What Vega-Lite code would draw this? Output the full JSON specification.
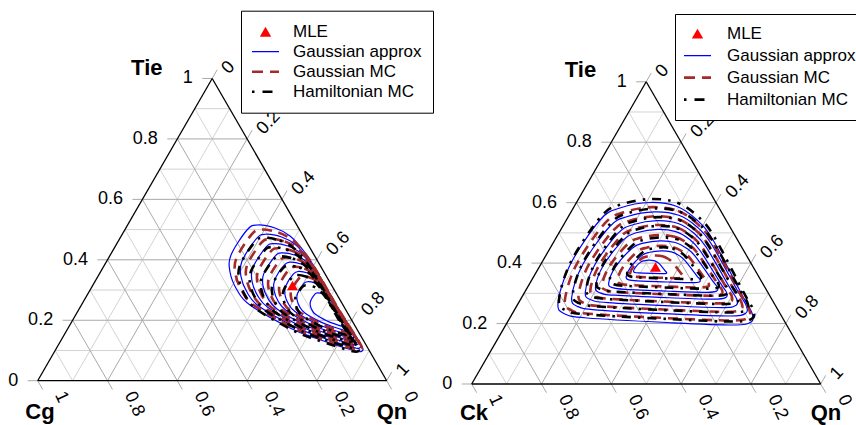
{
"$schema":"https://vega.github.io/schema/vega-lite/v6.json",
"padding":0,"spacing":0,"bounds":"flush",
"config":{"view":{"stroke":null},"font":"Liberation Sans","background":"white"},
"resolve":{"scale":{"color":"independent","x":"independent","y":"independent"},"legend":{"color":"independent"}},
"datasets":{
"grid":[
{"g":"minor","x":0.05,"y":0.0866,"x2":0.95,"y2":0.0866},
{"g":"major","x":0.1,"y":0.1732,"x2":0.9,"y2":0.1732},
{"g":"minor","x":0.15,"y":0.2598,"x2":0.85,"y2":0.2598},
{"g":"major","x":0.2,"y":0.3464,"x2":0.8,"y2":0.3464},
{"g":"minor","x":0.25,"y":0.433,"x2":0.75,"y2":0.433},
{"g":"major","x":0.3,"y":0.5196,"x2":0.7,"y2":0.5196},
{"g":"minor","x":0.35,"y":0.6062,"x2":0.65,"y2":0.6062},
{"g":"major","x":0.4,"y":0.6928,"x2":0.6,"y2":0.6928},
{"g":"minor","x":0.45,"y":0.7794,"x2":0.55,"y2":0.7794},
{"g":"minor","x":0.1,"y":0,"x2":0.55,"y2":0.7794},
{"g":"major","x":0.2,"y":0,"x2":0.6,"y2":0.6928},
{"g":"minor","x":0.3,"y":0,"x2":0.65,"y2":0.6062},
{"g":"major","x":0.4,"y":0,"x2":0.7,"y2":0.5196},
{"g":"minor","x":0.5,"y":0,"x2":0.75,"y2":0.433},
{"g":"major","x":0.6,"y":0,"x2":0.8,"y2":0.3464},
{"g":"minor","x":0.7,"y":0,"x2":0.85,"y2":0.2598},
{"g":"major","x":0.8,"y":0,"x2":0.9,"y2":0.1732},
{"g":"minor","x":0.9,"y":0,"x2":0.95,"y2":0.0866},
{"g":"minor","x":0.9,"y":0,"x2":0.45,"y2":0.7794},
{"g":"major","x":0.8,"y":0,"x2":0.4,"y2":0.6928},
{"g":"minor","x":0.7,"y":0,"x2":0.35,"y2":0.6062},
{"g":"major","x":0.6,"y":0,"x2":0.3,"y2":0.5196},
{"g":"minor","x":0.5,"y":0,"x2":0.25,"y2":0.433},
{"g":"major","x":0.4,"y":0,"x2":0.2,"y2":0.3464},
{"g":"minor","x":0.3,"y":0,"x2":0.15,"y2":0.2598},
{"g":"major","x":0.2,"y":0,"x2":0.1,"y2":0.1732},
{"g":"minor","x":0.1,"y":0,"x2":0.05,"y2":0.0866}
],
"ticks":[
{"x":0,"y":0,"x2":-0.0287,"y2":0},
{"x":0.1,"y":0.1732,"x2":0.0713,"y2":0.1732},
{"x":0.2,"y":0.3464,"x2":0.1713,"y2":0.3464},
{"x":0.3,"y":0.5196,"x2":0.2713,"y2":0.5196},
{"x":0.4,"y":0.6928,"x2":0.3713,"y2":0.6928},
{"x":0.5,"y":0.866,"x2":0.4713,"y2":0.866},
{"x":0.5,"y":0.866,"x2":0.5143,"y2":0.8909},
{"x":0.6,"y":0.6928,"x2":0.6143,"y2":0.7177},
{"x":0.7,"y":0.5196,"x2":0.7143,"y2":0.5445},
{"x":0.8,"y":0.3464,"x2":0.8143,"y2":0.3713},
{"x":0.9,"y":0.1732,"x2":0.9143,"y2":0.1981},
{"x":1,"y":0,"x2":1.0143,"y2":0.0249},
{"x":1,"y":0,"x2":1.0143,"y2":-0.0249},
{"x":0.8,"y":0,"x2":0.8143,"y2":-0.0249},
{"x":0.6,"y":0,"x2":0.6143,"y2":-0.0249},
{"x":0.4,"y":0,"x2":0.4143,"y2":-0.0249},
{"x":0.2,"y":0,"x2":0.2143,"y2":-0.0249},
{"x":0,"y":0,"x2":0.0143,"y2":-0.0249}
],
"border":[
{"x":0,"y":0,"x2":0.5,"y2":0.866},
{"x":0.5,"y":0.866,"x2":1,"y2":0},
{"x":0,"y":0,"x2":1,"y2":0}
],
"tlab":[
{"side":"L","t":"0","x":-0.0557,"y":0},
{"side":"L","t":"0.2","x":0.0443,"y":0.1732},
{"side":"L","t":"0.4","x":0.1443,"y":0.3464},
{"side":"L","t":"0.6","x":0.2443,"y":0.5196},
{"side":"L","t":"0.8","x":0.3443,"y":0.6928},
{"side":"L","t":"1","x":0.4443,"y":0.866},
{"side":"R","t":"0","x":0.5372,"y":0.8861},
{"side":"R","t":"0.2","x":0.6372,"y":0.7129},
{"side":"R","t":"0.4","x":0.7372,"y":0.5397},
{"side":"R","t":"0.6","x":0.8372,"y":0.3665},
{"side":"R","t":"0.8","x":0.9372,"y":0.1933},
{"side":"R","t":"1","x":1.0372,"y":0.0201},
{"side":"B","t":"1","x":0.0616,"y":-0.0344},
{"side":"B","t":"0.8","x":0.2616,"y":-0.0344},
{"side":"B","t":"0.6","x":0.4616,"y":-0.0344},
{"side":"B","t":"0.4","x":0.6616,"y":-0.0344},
{"side":"B","t":"0.2","x":0.8616,"y":-0.0344},
{"side":"B","t":"0","x":1.0616,"y":-0.0344}
],
"titlesL":[
{"t":"Tie","x":0.3126,"y":0.8974},
{"t":"Cg","x":0.0066,"y":-0.0883},
{"t":"Qn","x":1.0152,"y":-0.0883}
],
"titlesR":[
{"t":"Tie","x":0.3117,"y":0.8983},
{"t":"Ck","x":0.0066,"y":-0.083},
{"t":"Qn","x":1.0152,"y":-0.083}
],
"mleL":[{"s":"M","x":0.7301,"y":0.2728}],
"mleR":[{"s":"M","x":0.5266,"y":0.3352}],
"contL":[
{"s":"G","c":1,"i":0,"x":0.6284,"y":0.4462},{"s":"G","c":1,"i":1,"x":0.68,"y":0.4376},{"s":"G","c":1,"i":2,"x":0.7229,"y":0.4147},{"s":"G","c":1,"i":3,"x":0.7602,"y":0.3745},{"s":"G","c":1,"i":4,"x":0.7946,"y":0.323},{"s":"G","c":1,"i":5,"x":0.8605,"y":0.2084},{"s":"G","c":1,"i":6,"x":0.9235,"y":0.1081},{"s":"G","c":1,"i":7,"x":0.9292,"y":0.0851},{"s":"G","c":1,"i":8,"x":0.9006,"y":0.088},{"s":"G","c":1,"i":9,"x":0.7946,"y":0.1224},{"s":"G","c":1,"i":10,"x":0.7229,"y":0.151},{"s":"G","c":1,"i":11,"x":0.6083,"y":0.2169},{"s":"G","c":1,"i":12,"x":0.5711,"y":0.2599},{"s":"G","c":1,"i":13,"x":0.551,"y":0.3115},{"s":"G","c":1,"i":14,"x":0.5539,"y":0.3602},{"s":"G","c":1,"i":15,"x":0.5997,"y":0.4318},
{"s":"G","c":2,"i":0,"x":0.6522,"y":0.4196},{"s":"G","c":2,"i":1,"x":0.6986,"y":0.4118},{"s":"G","c":2,"i":2,"x":0.7372,"y":0.3912},{"s":"G","c":2,"i":3,"x":0.7708,"y":0.355},{"s":"G","c":2,"i":4,"x":0.8018,"y":0.3087},{"s":"G","c":2,"i":5,"x":0.8611,"y":0.2055},{"s":"G","c":2,"i":6,"x":0.9178,"y":0.1153},{"s":"G","c":2,"i":7,"x":0.9229,"y":0.0946},{"s":"G","c":2,"i":8,"x":0.8972,"y":0.0972},{"s":"G","c":2,"i":9,"x":0.8018,"y":0.1281},{"s":"G","c":2,"i":10,"x":0.7372,"y":0.1539},{"s":"G","c":2,"i":11,"x":0.6341,"y":0.2132},{"s":"G","c":2,"i":12,"x":0.6006,"y":0.2519},{"s":"G","c":2,"i":13,"x":0.5825,"y":0.2983},{"s":"G","c":2,"i":14,"x":0.5851,"y":0.3422},{"s":"G","c":2,"i":15,"x":0.6263,"y":0.4066},
{"s":"G","c":3,"i":0,"x":0.676,"y":0.3929},{"s":"G","c":3,"i":1,"x":0.7172,"y":0.386},{"s":"G","c":3,"i":2,"x":0.7516,"y":0.3677},{"s":"G","c":3,"i":3,"x":0.7814,"y":0.3355},{"s":"G","c":3,"i":4,"x":0.8089,"y":0.2943},{"s":"G","c":3,"i":5,"x":0.8616,"y":0.2027},{"s":"G","c":3,"i":6,"x":0.912,"y":0.1224},{"s":"G","c":3,"i":7,"x":0.9166,"y":0.104},{"s":"G","c":3,"i":8,"x":0.8937,"y":0.1063},{"s":"G","c":3,"i":9,"x":0.8089,"y":0.1339},{"s":"G","c":3,"i":10,"x":0.7516,"y":0.1567},{"s":"G","c":3,"i":11,"x":0.6599,"y":0.2095},{"s":"G","c":3,"i":12,"x":0.6301,"y":0.2439},{"s":"G","c":3,"i":13,"x":0.614,"y":0.2851},{"s":"G","c":3,"i":14,"x":0.6164,"y":0.3241},{"s":"G","c":3,"i":15,"x":0.653,"y":0.3814},
{"s":"G","c":4,"i":0,"x":0.6997,"y":0.3663},{"s":"G","c":4,"i":1,"x":0.7359,"y":0.3602},{"s":"G","c":4,"i":2,"x":0.7659,"y":0.3442},{"s":"G","c":4,"i":3,"x":0.792,"y":0.3161},{"s":"G","c":4,"i":4,"x":0.8161,"y":0.28},{"s":"G","c":4,"i":5,"x":0.8622,"y":0.1998},{"s":"G","c":4,"i":6,"x":0.9063,"y":0.1296},{"s":"G","c":4,"i":7,"x":0.9103,"y":0.1135},{"s":"G","c":4,"i":8,"x":0.8903,"y":0.1155},{"s":"G","c":4,"i":9,"x":0.8161,"y":0.1396},{"s":"G","c":4,"i":10,"x":0.7659,"y":0.1596},{"s":"G","c":4,"i":11,"x":0.6857,"y":0.2057},{"s":"G","c":4,"i":12,"x":0.6596,"y":0.2358},{"s":"G","c":4,"i":13,"x":0.6456,"y":0.272},{"s":"G","c":4,"i":14,"x":0.6476,"y":0.3061},{"s":"G","c":4,"i":15,"x":0.6796,"y":0.3562},
{"s":"G","c":5,"i":0,"x":0.7235,"y":0.3396},{"s":"G","c":5,"i":1,"x":0.7545,"y":0.3344},{"s":"G","c":5,"i":2,"x":0.7802,"y":0.3207},{"s":"G","c":5,"i":3,"x":0.8026,"y":0.2966},{"s":"G","c":5,"i":4,"x":0.8232,"y":0.2657},{"s":"G","c":5,"i":5,"x":0.8628,"y":0.1969},{"s":"G","c":5,"i":6,"x":0.9006,"y":0.1367},{"s":"G","c":5,"i":7,"x":0.904,"y":0.1229},{"s":"G","c":5,"i":8,"x":0.8868,"y":0.1247},{"s":"G","c":5,"i":9,"x":0.8232,"y":0.1453},{"s":"G","c":5,"i":10,"x":0.7802,"y":0.1625},{"s":"G","c":5,"i":11,"x":0.7115,"y":0.202},{"s":"G","c":5,"i":12,"x":0.6891,"y":0.2278},{"s":"G","c":5,"i":13,"x":0.6771,"y":0.2588},{"s":"G","c":5,"i":14,"x":0.6788,"y":0.288},{"s":"G","c":5,"i":15,"x":0.7063,"y":0.331},
{"s":"G","c":6,"i":0,"x":0.7473,"y":0.313},{"s":"G","c":6,"i":1,"x":0.7731,"y":0.3087},{"s":"G","c":6,"i":2,"x":0.7945,"y":0.2972},{"s":"G","c":6,"i":3,"x":0.8132,"y":0.2771},{"s":"G","c":6,"i":4,"x":0.8304,"y":0.2514},{"s":"G","c":6,"i":5,"x":0.8633,"y":0.1941},{"s":"G","c":6,"i":6,"x":0.8949,"y":0.1439},{"s":"G","c":6,"i":7,"x":0.8977,"y":0.1324},{"s":"G","c":6,"i":8,"x":0.8834,"y":0.1338},{"s":"G","c":6,"i":9,"x":0.8304,"y":0.151},{"s":"G","c":6,"i":10,"x":0.7945,"y":0.1653},{"s":"G","c":6,"i":11,"x":0.7372,"y":0.1983},{"s":"G","c":6,"i":12,"x":0.7186,"y":0.2198},{"s":"G","c":6,"i":13,"x":0.7086,"y":0.2456},{"s":"G","c":6,"i":14,"x":0.71,"y":0.27},{"s":"G","c":6,"i":15,"x":0.7329,"y":0.3058},
{"s":"G","c":7,"i":0,"x":0.7735,"y":0.2836},{"s":"G","c":7,"i":1,"x":0.7936,"y":0.2803},{"s":"G","c":7,"i":2,"x":0.8103,"y":0.2714},{"s":"G","c":7,"i":3,"x":0.8249,"y":0.2557},{"s":"G","c":7,"i":4,"x":0.8383,"y":0.2356},{"s":"G","c":7,"i":5,"x":0.864,"y":0.1909},{"s":"G","c":7,"i":6,"x":0.8885,"y":0.1518},{"s":"G","c":7,"i":7,"x":0.8908,"y":0.1428},{"s":"G","c":7,"i":8,"x":0.8796,"y":0.1439},{"s":"G","c":7,"i":9,"x":0.8383,"y":0.1574},{"s":"G","c":7,"i":10,"x":0.8103,"y":0.1685},{"s":"G","c":7,"i":11,"x":0.7656,"y":0.1942},{"s":"G","c":7,"i":12,"x":0.7511,"y":0.211},{"s":"G","c":7,"i":13,"x":0.7433,"y":0.2311},{"s":"G","c":7,"i":14,"x":0.7444,"y":0.2501},{"s":"G","c":7,"i":15,"x":0.7623,"y":0.278},
{"s":"G","c":8,"i":0,"x":0.802,"y":0.2517},{"s":"G","c":8,"i":1,"x":0.8159,"y":0.2493},{"s":"G","c":8,"i":2,"x":0.8275,"y":0.2432},{"s":"G","c":8,"i":3,"x":0.8376,"y":0.2323},{"s":"G","c":8,"i":4,"x":0.8469,"y":0.2184},{"s":"G","c":8,"i":5,"x":0.8647,"y":0.1874},{"s":"G","c":8,"i":6,"x":0.8817,"y":0.1604},{"s":"G","c":8,"i":7,"x":0.8832,"y":0.1542},{"s":"G","c":8,"i":8,"x":0.8755,"y":0.1549},{"s":"G","c":8,"i":9,"x":0.8469,"y":0.1642},{"s":"G","c":8,"i":10,"x":0.8275,"y":0.172},{"s":"G","c":8,"i":11,"x":0.7966,"y":0.1897},{"s":"G","c":8,"i":12,"x":0.7865,"y":0.2014},{"s":"G","c":8,"i":13,"x":0.7811,"y":0.2153},{"s":"G","c":8,"i":14,"x":0.7819,"y":0.2284},{"s":"G","c":8,"i":15,"x":0.7942,"y":0.2478},
{"s":"C","c":1,"i":0,"x":0.6403,"y":0.4329},{"s":"C","c":1,"i":1,"x":0.6893,"y":0.4247},{"s":"C","c":1,"i":2,"x":0.7301,"y":0.403},{"s":"C","c":1,"i":3,"x":0.7655,"y":0.3648},{"s":"C","c":1,"i":4,"x":0.7982,"y":0.3159},{"s":"C","c":1,"i":5,"x":0.8608,"y":0.207},{"s":"C","c":1,"i":6,"x":0.9207,"y":0.1117},{"s":"C","c":1,"i":7,"x":0.9261,"y":0.0899},{"s":"C","c":1,"i":8,"x":0.8989,"y":0.0926},{"s":"C","c":1,"i":9,"x":0.7982,"y":0.1253},{"s":"C","c":1,"i":10,"x":0.7301,"y":0.1525},{"s":"C","c":1,"i":11,"x":0.6212,"y":0.2151},{"s":"C","c":1,"i":12,"x":0.5859,"y":0.2559},{"s":"C","c":1,"i":13,"x":0.5668,"y":0.3049},{"s":"C","c":1,"i":14,"x":0.5695,"y":0.3512},{"s":"C","c":1,"i":15,"x":0.613,"y":0.4192},
{"s":"C","c":2,"i":0,"x":0.6641,"y":0.4063},{"s":"C","c":2,"i":1,"x":0.7079,"y":0.3989},{"s":"C","c":2,"i":2,"x":0.7444,"y":0.3795},{"s":"C","c":2,"i":3,"x":0.7761,"y":0.3453},{"s":"C","c":2,"i":4,"x":0.8054,"y":0.3015},{"s":"C","c":2,"i":5,"x":0.8614,"y":0.2041},{"s":"C","c":2,"i":6,"x":0.9149,"y":0.1189},{"s":"C","c":2,"i":7,"x":0.9198,"y":0.0993},{"s":"C","c":2,"i":8,"x":0.8955,"y":0.1018},{"s":"C","c":2,"i":9,"x":0.8054,"y":0.131},{"s":"C","c":2,"i":10,"x":0.7444,"y":0.1553},{"s":"C","c":2,"i":11,"x":0.647,"y":0.2114},{"s":"C","c":2,"i":12,"x":0.6154,"y":0.2479},{"s":"C","c":2,"i":13,"x":0.5983,"y":0.2917},{"s":"C","c":2,"i":14,"x":0.6008,"y":0.3332},{"s":"C","c":2,"i":15,"x":0.6397,"y":0.394},
{"s":"C","c":3,"i":0,"x":0.6879,"y":0.3796},{"s":"C","c":3,"i":1,"x":0.7266,"y":0.3731},{"s":"C","c":3,"i":2,"x":0.7588,"y":0.356},{"s":"C","c":3,"i":3,"x":0.7867,"y":0.3258},{"s":"C","c":3,"i":4,"x":0.8125,"y":0.2872},{"s":"C","c":3,"i":5,"x":0.8619,"y":0.2013},{"s":"C","c":3,"i":6,"x":0.9092,"y":0.126},{"s":"C","c":3,"i":7,"x":0.9135,"y":0.1088},{"s":"C","c":3,"i":8,"x":0.892,"y":0.1109},{"s":"C","c":3,"i":9,"x":0.8125,"y":0.1368},{"s":"C","c":3,"i":10,"x":0.7588,"y":0.1582},{"s":"C","c":3,"i":11,"x":0.6728,"y":0.2076},{"s":"C","c":3,"i":12,"x":0.6449,"y":0.2399},{"s":"C","c":3,"i":13,"x":0.6298,"y":0.2786},{"s":"C","c":3,"i":14,"x":0.632,"y":0.3151},{"s":"C","c":3,"i":15,"x":0.6663,"y":0.3688},
{"s":"C","c":4,"i":0,"x":0.7116,"y":0.353},{"s":"C","c":4,"i":1,"x":0.7452,"y":0.3473},{"s":"C","c":4,"i":2,"x":0.7731,"y":0.3325},{"s":"C","c":4,"i":3,"x":0.7973,"y":0.3064},{"s":"C","c":4,"i":4,"x":0.8197,"y":0.2729},{"s":"C","c":4,"i":5,"x":0.8625,"y":0.1984},{"s":"C","c":4,"i":6,"x":0.9035,"y":0.1332},{"s":"C","c":4,"i":7,"x":0.9072,"y":0.1182},{"s":"C","c":4,"i":8,"x":0.8886,"y":0.1201},{"s":"C","c":4,"i":9,"x":0.8197,"y":0.1425},{"s":"C","c":4,"i":10,"x":0.7731,"y":0.1611},{"s":"C","c":4,"i":11,"x":0.6986,"y":0.2039},{"s":"C","c":4,"i":12,"x":0.6744,"y":0.2318},{"s":"C","c":4,"i":13,"x":0.6614,"y":0.2654},{"s":"C","c":4,"i":14,"x":0.6632,"y":0.2971},{"s":"C","c":4,"i":15,"x":0.693,"y":0.3436},
{"s":"C","c":5,"i":0,"x":0.7354,"y":0.3263},{"s":"C","c":5,"i":1,"x":0.7638,"y":0.3216},{"s":"C","c":5,"i":2,"x":0.7874,"y":0.309},{"s":"C","c":5,"i":3,"x":0.8079,"y":0.2869},{"s":"C","c":5,"i":4,"x":0.8268,"y":0.2586},{"s":"C","c":5,"i":5,"x":0.8631,"y":0.1955},{"s":"C","c":5,"i":6,"x":0.8978,"y":0.1403},{"s":"C","c":5,"i":7,"x":0.9009,"y":0.1277},{"s":"C","c":5,"i":8,"x":0.8851,"y":0.1293},{"s":"C","c":5,"i":9,"x":0.8268,"y":0.1482},{"s":"C","c":5,"i":10,"x":0.7874,"y":0.1639},{"s":"C","c":5,"i":11,"x":0.7244,"y":0.2002},{"s":"C","c":5,"i":12,"x":0.7039,"y":0.2238},{"s":"C","c":5,"i":13,"x":0.6929,"y":0.2522},{"s":"C","c":5,"i":14,"x":0.6944,"y":0.279},{"s":"C","c":5,"i":15,"x":0.7196,"y":0.3184},
{"s":"C","c":6,"i":0,"x":0.7604,"y":0.2983},{"s":"C","c":6,"i":1,"x":0.7834,"y":0.2945},{"s":"C","c":6,"i":2,"x":0.8024,"y":0.2843},{"s":"C","c":6,"i":3,"x":0.8191,"y":0.2664},{"s":"C","c":6,"i":4,"x":0.8344,"y":0.2435},{"s":"C","c":6,"i":5,"x":0.8637,"y":0.1925},{"s":"C","c":6,"i":6,"x":0.8917,"y":0.1479},{"s":"C","c":6,"i":7,"x":0.8943,"y":0.1376},{"s":"C","c":6,"i":8,"x":0.8815,"y":0.1389},{"s":"C","c":6,"i":9,"x":0.8344,"y":0.1542},{"s":"C","c":6,"i":10,"x":0.8024,"y":0.1669},{"s":"C","c":6,"i":11,"x":0.7514,"y":0.1963},{"s":"C","c":6,"i":12,"x":0.7349,"y":0.2154},{"s":"C","c":6,"i":13,"x":0.726,"y":0.2384},{"s":"C","c":6,"i":14,"x":0.7272,"y":0.2601},{"s":"C","c":6,"i":15,"x":0.7476,"y":0.2919},
{"s":"H","c":1,"i":0,"x":0.6472,"y":0.4096},{"s":"H","c":1,"i":1,"x":0.6936,"y":0.4018},{"s":"H","c":1,"i":2,"x":0.7322,"y":0.3812},{"s":"H","c":1,"i":3,"x":0.7658,"y":0.345},{"s":"H","c":1,"i":4,"x":0.7968,"y":0.2987},{"s":"H","c":1,"i":5,"x":0.8561,"y":0.1955},{"s":"H","c":1,"i":6,"x":0.9128,"y":0.1053},{"s":"H","c":1,"i":7,"x":0.9179,"y":0.0846},{"s":"H","c":1,"i":8,"x":0.8922,"y":0.0872},{"s":"H","c":1,"i":9,"x":0.7968,"y":0.1181},{"s":"H","c":1,"i":10,"x":0.7322,"y":0.1439},{"s":"H","c":1,"i":11,"x":0.6291,"y":0.2032},{"s":"H","c":1,"i":12,"x":0.5956,"y":0.2419},{"s":"H","c":1,"i":13,"x":0.5775,"y":0.2883},{"s":"H","c":1,"i":14,"x":0.5801,"y":0.3322},{"s":"H","c":1,"i":15,"x":0.6213,"y":0.3966},
{"s":"H","c":2,"i":0,"x":0.671,"y":0.3829},{"s":"H","c":2,"i":1,"x":0.7122,"y":0.376},{"s":"H","c":2,"i":2,"x":0.7466,"y":0.3577},{"s":"H","c":2,"i":3,"x":0.7764,"y":0.3255},{"s":"H","c":2,"i":4,"x":0.8039,"y":0.2843},{"s":"H","c":2,"i":5,"x":0.8566,"y":0.1927},{"s":"H","c":2,"i":6,"x":0.907,"y":0.1124},{"s":"H","c":2,"i":7,"x":0.9116,"y":0.094},{"s":"H","c":2,"i":8,"x":0.8887,"y":0.0963},{"s":"H","c":2,"i":9,"x":0.8039,"y":0.1239},{"s":"H","c":2,"i":10,"x":0.7466,"y":0.1467},{"s":"H","c":2,"i":11,"x":0.6549,"y":0.1995},{"s":"H","c":2,"i":12,"x":0.6251,"y":0.2339},{"s":"H","c":2,"i":13,"x":0.609,"y":0.2751},{"s":"H","c":2,"i":14,"x":0.6114,"y":0.3141},{"s":"H","c":2,"i":15,"x":0.648,"y":0.3714},
{"s":"H","c":3,"i":0,"x":0.6947,"y":0.3563},{"s":"H","c":3,"i":1,"x":0.7309,"y":0.3502},{"s":"H","c":3,"i":2,"x":0.7609,"y":0.3342},{"s":"H","c":3,"i":3,"x":0.787,"y":0.3061},{"s":"H","c":3,"i":4,"x":0.8111,"y":0.27},{"s":"H","c":3,"i":5,"x":0.8572,"y":0.1898},{"s":"H","c":3,"i":6,"x":0.9013,"y":0.1196},{"s":"H","c":3,"i":7,"x":0.9053,"y":0.1035},{"s":"H","c":3,"i":8,"x":0.8853,"y":0.1055},{"s":"H","c":3,"i":9,"x":0.8111,"y":0.1296},{"s":"H","c":3,"i":10,"x":0.7609,"y":0.1496},{"s":"H","c":3,"i":11,"x":0.6807,"y":0.1957},{"s":"H","c":3,"i":12,"x":0.6546,"y":0.2258},{"s":"H","c":3,"i":13,"x":0.6406,"y":0.262},{"s":"H","c":3,"i":14,"x":0.6426,"y":0.2961},{"s":"H","c":3,"i":15,"x":0.6746,"y":0.3462},
{"s":"H","c":4,"i":0,"x":0.7185,"y":0.3296},{"s":"H","c":4,"i":1,"x":0.7495,"y":0.3244},{"s":"H","c":4,"i":2,"x":0.7752,"y":0.3107},{"s":"H","c":4,"i":3,"x":0.7976,"y":0.2866},{"s":"H","c":4,"i":4,"x":0.8182,"y":0.2557},{"s":"H","c":4,"i":5,"x":0.8578,"y":0.1869},{"s":"H","c":4,"i":6,"x":0.8956,"y":0.1267},{"s":"H","c":4,"i":7,"x":0.899,"y":0.1129},{"s":"H","c":4,"i":8,"x":0.8818,"y":0.1147},{"s":"H","c":4,"i":9,"x":0.8182,"y":0.1353},{"s":"H","c":4,"i":10,"x":0.7752,"y":0.1525},{"s":"H","c":4,"i":11,"x":0.7065,"y":0.192},{"s":"H","c":4,"i":12,"x":0.6841,"y":0.2178},{"s":"H","c":4,"i":13,"x":0.6721,"y":0.2488},{"s":"H","c":4,"i":14,"x":0.6738,"y":0.278},{"s":"H","c":4,"i":15,"x":0.7013,"y":0.321},
{"s":"H","c":5,"i":0,"x":0.7423,"y":0.303},{"s":"H","c":5,"i":1,"x":0.7681,"y":0.2987},{"s":"H","c":5,"i":2,"x":0.7895,"y":0.2872},{"s":"H","c":5,"i":3,"x":0.8082,"y":0.2671},{"s":"H","c":5,"i":4,"x":0.8254,"y":0.2414},{"s":"H","c":5,"i":5,"x":0.8583,"y":0.1841},{"s":"H","c":5,"i":6,"x":0.8899,"y":0.1339},{"s":"H","c":5,"i":7,"x":0.8927,"y":0.1224},{"s":"H","c":5,"i":8,"x":0.8784,"y":0.1238},{"s":"H","c":5,"i":9,"x":0.8254,"y":0.141},{"s":"H","c":5,"i":10,"x":0.7895,"y":0.1553},{"s":"H","c":5,"i":11,"x":0.7322,"y":0.1883},{"s":"H","c":5,"i":12,"x":0.7136,"y":0.2098},{"s":"H","c":5,"i":13,"x":0.7036,"y":0.2356},{"s":"H","c":5,"i":14,"x":0.705,"y":0.26},{"s":"H","c":5,"i":15,"x":0.7279,"y":0.2958},
{"s":"H","c":6,"i":0,"x":0.7685,"y":0.2736},{"s":"H","c":6,"i":1,"x":0.7886,"y":0.2703},{"s":"H","c":6,"i":2,"x":0.8053,"y":0.2614},{"s":"H","c":6,"i":3,"x":0.8199,"y":0.2457},{"s":"H","c":6,"i":4,"x":0.8333,"y":0.2256},{"s":"H","c":6,"i":5,"x":0.859,"y":0.1809},{"s":"H","c":6,"i":6,"x":0.8835,"y":0.1418},{"s":"H","c":6,"i":7,"x":0.8858,"y":0.1328},{"s":"H","c":6,"i":8,"x":0.8746,"y":0.1339},{"s":"H","c":6,"i":9,"x":0.8333,"y":0.1474},{"s":"H","c":6,"i":10,"x":0.8053,"y":0.1585},{"s":"H","c":6,"i":11,"x":0.7606,"y":0.1842},{"s":"H","c":6,"i":12,"x":0.7461,"y":0.201},{"s":"H","c":6,"i":13,"x":0.7383,"y":0.2211},{"s":"H","c":6,"i":14,"x":0.7394,"y":0.2401},{"s":"H","c":6,"i":15,"x":0.7573,"y":0.268}
],
"contR":[
{"s":"G","c":1,"i":0,"x":0.5109,"y":0.5201},{"s":"G","c":1,"i":1,"x":0.5882,"y":0.5086},{"s":"G","c":1,"i":2,"x":0.6455,"y":0.4699},{"s":"G","c":1,"i":3,"x":0.6914,"y":0.4126},{"s":"G","c":1,"i":4,"x":0.7773,"y":0.2502},{"s":"G","c":1,"i":5,"x":0.8031,"y":0.2035},{"s":"G","c":1,"i":6,"x":0.8003,"y":0.1777},{"s":"G","c":1,"i":7,"x":0.7487,"y":0.1691},{"s":"G","c":1,"i":8,"x":0.5596,"y":0.1762},{"s":"G","c":1,"i":9,"x":0.3304,"y":0.1891},{"s":"G","c":1,"i":10,"x":0.2673,"y":0.2006},{"s":"G","c":1,"i":11,"x":0.2473,"y":0.2321},{"s":"G","c":1,"i":12,"x":0.2816,"y":0.341},{"s":"G","c":1,"i":13,"x":0.3676,"y":0.4699},{"s":"G","c":1,"i":14,"x":0.4249,"y":0.5043},
{"s":"G","c":2,"i":0,"x":0.5238,"y":0.4932},{"s":"G","c":2,"i":1,"x":0.5934,"y":0.4835},{"s":"G","c":2,"i":2,"x":0.645,"y":0.4506},{"s":"G","c":2,"i":3,"x":0.6863,"y":0.4019},{"s":"G","c":2,"i":4,"x":0.7636,"y":0.2638},{"s":"G","c":2,"i":5,"x":0.7868,"y":0.2241},{"s":"G","c":2,"i":6,"x":0.7843,"y":0.2022},{"s":"G","c":2,"i":7,"x":0.7379,"y":0.1949},{"s":"G","c":2,"i":8,"x":0.5677,"y":0.2009},{"s":"G","c":2,"i":9,"x":0.3614,"y":0.2119},{"s":"G","c":2,"i":10,"x":0.3046,"y":0.2217},{"s":"G","c":2,"i":11,"x":0.2866,"y":0.2484},{"s":"G","c":2,"i":12,"x":0.3175,"y":0.341},{"s":"G","c":2,"i":13,"x":0.3949,"y":0.4506},{"s":"G","c":2,"i":14,"x":0.4464,"y":0.4798},
{"s":"G","c":3,"i":0,"x":0.5312,"y":0.4682},{"s":"G","c":3,"i":1,"x":0.5915,"y":0.46},{"s":"G","c":3,"i":2,"x":0.6362,"y":0.4325},{"s":"G","c":3,"i":3,"x":0.672,"y":0.3918},{"s":"G","c":3,"i":4,"x":0.739,"y":0.2765},{"s":"G","c":3,"i":5,"x":0.7592,"y":0.2434},{"s":"G","c":3,"i":6,"x":0.757,"y":0.2251},{"s":"G","c":3,"i":7,"x":0.7167,"y":0.219},{"s":"G","c":3,"i":8,"x":0.5692,"y":0.224},{"s":"G","c":3,"i":9,"x":0.3905,"y":0.2332},{"s":"G","c":3,"i":10,"x":0.3412,"y":0.2413},{"s":"G","c":3,"i":11,"x":0.3256,"y":0.2637},{"s":"G","c":3,"i":12,"x":0.3524,"y":0.341},{"s":"G","c":3,"i":13,"x":0.4195,"y":0.4325},{"s":"G","c":3,"i":14,"x":0.4642,"y":0.4569},
{"s":"G","c":4,"i":0,"x":0.5327,"y":0.4431},{"s":"G","c":4,"i":1,"x":0.5849,"y":0.4365},{"s":"G","c":4,"i":2,"x":0.6236,"y":0.4145},{"s":"G","c":4,"i":3,"x":0.6546,"y":0.3818},{"s":"G","c":4,"i":4,"x":0.7126,"y":0.2892},{"s":"G","c":4,"i":5,"x":0.73,"y":0.2626},{"s":"G","c":4,"i":6,"x":0.7281,"y":0.2479},{"s":"G","c":4,"i":7,"x":0.6933,"y":0.243},{"s":"G","c":4,"i":8,"x":0.5656,"y":0.2471},{"s":"G","c":4,"i":9,"x":0.4109,"y":0.2544},{"s":"G","c":4,"i":10,"x":0.3683,"y":0.261},{"s":"G","c":4,"i":11,"x":0.3548,"y":0.2789},{"s":"G","c":4,"i":12,"x":0.378,"y":0.341},{"s":"G","c":4,"i":13,"x":0.436,"y":0.4145},{"s":"G","c":4,"i":14,"x":0.4747,"y":0.4341},
{"s":"G","c":5,"i":0,"x":0.5401,"y":0.4102},{"s":"G","c":5,"i":1,"x":0.5834,"y":0.4054},{"s":"G","c":5,"i":2,"x":0.6155,"y":0.3891},{"s":"G","c":5,"i":3,"x":0.6412,"y":0.3651},{"s":"G","c":5,"i":4,"x":0.6893,"y":0.2969},{"s":"G","c":5,"i":5,"x":0.7037,"y":0.2772},{"s":"G","c":5,"i":6,"x":0.7022,"y":0.2664},{"s":"G","c":5,"i":7,"x":0.6733,"y":0.2628},{"s":"G","c":5,"i":8,"x":0.5674,"y":0.2658},{"s":"G","c":5,"i":9,"x":0.439,"y":0.2712},{"s":"G","c":5,"i":10,"x":0.4037,"y":0.276},{"s":"G","c":5,"i":11,"x":0.3925,"y":0.2893},{"s":"G","c":5,"i":12,"x":0.4117,"y":0.335},{"s":"G","c":5,"i":13,"x":0.4598,"y":0.3891},{"s":"G","c":5,"i":14,"x":0.4919,"y":0.4036},
{"s":"G","c":6,"i":0,"x":0.5427,"y":0.3816},{"s":"G","c":6,"i":1,"x":0.572,"y":0.3786},{"s":"G","c":6,"i":2,"x":0.5938,"y":0.3685},{"s":"G","c":6,"i":3,"x":0.6113,"y":0.3536},{"s":"G","c":6,"i":4,"x":0.6439,"y":0.3114},{"s":"G","c":6,"i":5,"x":0.6537,"y":0.2992},{"s":"G","c":6,"i":6,"x":0.6526,"y":0.2925},{"s":"G","c":6,"i":7,"x":0.633,"y":0.2903},{"s":"G","c":6,"i":8,"x":0.5612,"y":0.2922},{"s":"G","c":6,"i":9,"x":0.4741,"y":0.2955},{"s":"G","c":6,"i":10,"x":0.4501,"y":0.2985},{"s":"G","c":6,"i":11,"x":0.4425,"y":0.3067},{"s":"G","c":6,"i":12,"x":0.4555,"y":0.335},{"s":"G","c":6,"i":13,"x":0.4882,"y":0.3685},{"s":"G","c":6,"i":14,"x":0.51,"y":0.3775},
{"s":"G","c":7,"i":0,"x":0.5085,"y":0.3547},{"s":"G","c":7,"i":1,"x":0.5216,"y":0.3534},{"s":"G","c":7,"i":2,"x":0.5314,"y":0.3492},{"s":"G","c":7,"i":3,"x":0.5392,"y":0.3429},{"s":"G","c":7,"i":4,"x":0.5538,"y":0.325},{"s":"G","c":7,"i":5,"x":0.5581,"y":0.3199},{"s":"G","c":7,"i":6,"x":0.5577,"y":0.317},{"s":"G","c":7,"i":7,"x":0.5489,"y":0.3161},{"s":"G","c":7,"i":8,"x":0.5167,"y":0.3169},{"s":"G","c":7,"i":9,"x":0.4778,"y":0.3183},{"s":"G","c":7,"i":10,"x":0.4671,"y":0.3196},{"s":"G","c":7,"i":11,"x":0.4637,"y":0.323},{"s":"G","c":7,"i":12,"x":0.4695,"y":0.335},{"s":"G","c":7,"i":13,"x":0.4841,"y":0.3492},{"s":"G","c":7,"i":14,"x":0.4938,"y":0.353},
{"s":"C","c":1,"i":0,"x":0.5174,"y":0.5067},{"s":"C","c":1,"i":1,"x":0.5908,"y":0.4961},{"s":"C","c":1,"i":2,"x":0.6453,"y":0.4603},{"s":"C","c":1,"i":3,"x":0.6889,"y":0.4073},{"s":"C","c":1,"i":4,"x":0.7705,"y":0.257},{"s":"C","c":1,"i":5,"x":0.795,"y":0.2138},{"s":"C","c":1,"i":6,"x":0.7923,"y":0.19},{"s":"C","c":1,"i":7,"x":0.7433,"y":0.182},{"s":"C","c":1,"i":8,"x":0.5637,"y":0.1886},{"s":"C","c":1,"i":9,"x":0.3459,"y":0.2005},{"s":"C","c":1,"i":10,"x":0.286,"y":0.2112},{"s":"C","c":1,"i":11,"x":0.267,"y":0.2403},{"s":"C","c":1,"i":12,"x":0.2996,"y":0.341},{"s":"C","c":1,"i":13,"x":0.3813,"y":0.4603},{"s":"C","c":1,"i":14,"x":0.4357,"y":0.4921},
{"s":"C","c":2,"i":0,"x":0.5275,"y":0.4807},{"s":"C","c":2,"i":1,"x":0.5925,"y":0.4718},{"s":"C","c":2,"i":2,"x":0.6406,"y":0.4416},{"s":"C","c":2,"i":3,"x":0.6792,"y":0.3969},{"s":"C","c":2,"i":4,"x":0.7513,"y":0.2702},{"s":"C","c":2,"i":5,"x":0.773,"y":0.2338},{"s":"C","c":2,"i":6,"x":0.7707,"y":0.2137},{"s":"C","c":2,"i":7,"x":0.7273,"y":0.207},{"s":"C","c":2,"i":8,"x":0.5685,"y":0.2125},{"s":"C","c":2,"i":9,"x":0.376,"y":0.2226},{"s":"C","c":2,"i":10,"x":0.3229,"y":0.2315},{"s":"C","c":2,"i":11,"x":0.3061,"y":0.2561},{"s":"C","c":2,"i":12,"x":0.335,"y":0.341},{"s":"C","c":2,"i":13,"x":0.4072,"y":0.4416},{"s":"C","c":2,"i":14,"x":0.4553,"y":0.4684},
{"s":"C","c":3,"i":0,"x":0.532,"y":0.4557},{"s":"C","c":3,"i":1,"x":0.5882,"y":0.4483},{"s":"C","c":3,"i":2,"x":0.6299,"y":0.4235},{"s":"C","c":3,"i":3,"x":0.6633,"y":0.3868},{"s":"C","c":3,"i":4,"x":0.7258,"y":0.2829},{"s":"C","c":3,"i":5,"x":0.7446,"y":0.253},{"s":"C","c":3,"i":6,"x":0.7426,"y":0.2365},{"s":"C","c":3,"i":7,"x":0.705,"y":0.231},{"s":"C","c":3,"i":8,"x":0.5674,"y":0.2356},{"s":"C","c":3,"i":9,"x":0.4007,"y":0.2438},{"s":"C","c":3,"i":10,"x":0.3548,"y":0.2512},{"s":"C","c":3,"i":11,"x":0.3402,"y":0.2713},{"s":"C","c":3,"i":12,"x":0.3652,"y":0.341},{"s":"C","c":3,"i":13,"x":0.4278,"y":0.4235},{"s":"C","c":3,"i":14,"x":0.4695,"y":0.4455},
{"s":"C","c":4,"i":0,"x":0.5364,"y":0.4267},{"s":"C","c":4,"i":1,"x":0.5842,"y":0.421},{"s":"C","c":4,"i":2,"x":0.6196,"y":0.4018},{"s":"C","c":4,"i":3,"x":0.6479,"y":0.3735},{"s":"C","c":4,"i":4,"x":0.701,"y":0.2931},{"s":"C","c":4,"i":5,"x":0.7169,"y":0.2699},{"s":"C","c":4,"i":6,"x":0.7152,"y":0.2572},{"s":"C","c":4,"i":7,"x":0.6833,"y":0.2529},{"s":"C","c":4,"i":8,"x":0.5665,"y":0.2565},{"s":"C","c":4,"i":9,"x":0.425,"y":0.2628},{"s":"C","c":4,"i":10,"x":0.386,"y":0.2685},{"s":"C","c":4,"i":11,"x":0.3737,"y":0.2841},{"s":"C","c":4,"i":12,"x":0.3949,"y":0.338},{"s":"C","c":4,"i":13,"x":0.4479,"y":0.4018},{"s":"C","c":4,"i":14,"x":0.4833,"y":0.4189},
{"s":"C","c":5,"i":0,"x":0.5414,"y":0.3959},{"s":"C","c":5,"i":1,"x":0.5777,"y":0.392},{"s":"C","c":5,"i":2,"x":0.6047,"y":0.3788},{"s":"C","c":5,"i":3,"x":0.6263,"y":0.3594},{"s":"C","c":5,"i":4,"x":0.6666,"y":0.3042},{"s":"C","c":5,"i":5,"x":0.6787,"y":0.2882},{"s":"C","c":5,"i":6,"x":0.6774,"y":0.2795},{"s":"C","c":5,"i":7,"x":0.6532,"y":0.2766},{"s":"C","c":5,"i":8,"x":0.5643,"y":0.279},{"s":"C","c":5,"i":9,"x":0.4566,"y":0.2834},{"s":"C","c":5,"i":10,"x":0.4269,"y":0.2873},{"s":"C","c":5,"i":11,"x":0.4175,"y":0.298},{"s":"C","c":5,"i":12,"x":0.4336,"y":0.335},{"s":"C","c":5,"i":13,"x":0.474,"y":0.3788},{"s":"C","c":5,"i":14,"x":0.501,"y":0.3906},
{"s":"C","c":6,"i":0,"x":0.5256,"y":0.3682},{"s":"C","c":6,"i":1,"x":0.5468,"y":0.366},{"s":"C","c":6,"i":2,"x":0.5626,"y":0.3589},{"s":"C","c":6,"i":3,"x":0.5753,"y":0.3483},{"s":"C","c":6,"i":4,"x":0.5989,"y":0.3182},{"s":"C","c":6,"i":5,"x":0.6059,"y":0.3096},{"s":"C","c":6,"i":6,"x":0.6052,"y":0.3048},{"s":"C","c":6,"i":7,"x":0.591,"y":0.3032},{"s":"C","c":6,"i":8,"x":0.539,"y":0.3046},{"s":"C","c":6,"i":9,"x":0.476,"y":0.3069},{"s":"C","c":6,"i":10,"x":0.4586,"y":0.3091},{"s":"C","c":6,"i":11,"x":0.4531,"y":0.3149},{"s":"C","c":6,"i":12,"x":0.4625,"y":0.335},{"s":"C","c":6,"i":13,"x":0.4862,"y":0.3589},{"s":"C","c":6,"i":14,"x":0.5019,"y":0.3653},
{"s":"H","c":1,"i":0,"x":0.5139,"y":0.5301},{"s":"H","c":1,"i":1,"x":0.5912,"y":0.5186},{"s":"H","c":1,"i":2,"x":0.6485,"y":0.4799},{"s":"H","c":1,"i":3,"x":0.6944,"y":0.4226},{"s":"H","c":1,"i":4,"x":0.7803,"y":0.2602},{"s":"H","c":1,"i":5,"x":0.8061,"y":0.2135},{"s":"H","c":1,"i":6,"x":0.8033,"y":0.1877},{"s":"H","c":1,"i":7,"x":0.7517,"y":0.1791},{"s":"H","c":1,"i":8,"x":0.5626,"y":0.1862},{"s":"H","c":1,"i":9,"x":0.3334,"y":0.1991},{"s":"H","c":1,"i":10,"x":0.2703,"y":0.2106},{"s":"H","c":1,"i":11,"x":0.2503,"y":0.2421},{"s":"H","c":1,"i":12,"x":0.2846,"y":0.351},{"s":"H","c":1,"i":13,"x":0.3706,"y":0.4799},{"s":"H","c":1,"i":14,"x":0.4279,"y":0.5143},
{"s":"H","c":2,"i":0,"x":0.5268,"y":0.5032},{"s":"H","c":2,"i":1,"x":0.5964,"y":0.4935},{"s":"H","c":2,"i":2,"x":0.648,"y":0.4606},{"s":"H","c":2,"i":3,"x":0.6893,"y":0.4119},{"s":"H","c":2,"i":4,"x":0.7666,"y":0.2738},{"s":"H","c":2,"i":5,"x":0.7898,"y":0.2341},{"s":"H","c":2,"i":6,"x":0.7873,"y":0.2122},{"s":"H","c":2,"i":7,"x":0.7409,"y":0.2049},{"s":"H","c":2,"i":8,"x":0.5707,"y":0.2109},{"s":"H","c":2,"i":9,"x":0.3644,"y":0.2219},{"s":"H","c":2,"i":10,"x":0.3076,"y":0.2317},{"s":"H","c":2,"i":11,"x":0.2896,"y":0.2584},{"s":"H","c":2,"i":12,"x":0.3205,"y":0.351},{"s":"H","c":2,"i":13,"x":0.3979,"y":0.4606},{"s":"H","c":2,"i":14,"x":0.4494,"y":0.4898},
{"s":"H","c":3,"i":0,"x":0.5342,"y":0.4782},{"s":"H","c":3,"i":1,"x":0.5945,"y":0.47},{"s":"H","c":3,"i":2,"x":0.6392,"y":0.4425},{"s":"H","c":3,"i":3,"x":0.675,"y":0.4018},{"s":"H","c":3,"i":4,"x":0.742,"y":0.2865},{"s":"H","c":3,"i":5,"x":0.7622,"y":0.2534},{"s":"H","c":3,"i":6,"x":0.76,"y":0.2351},{"s":"H","c":3,"i":7,"x":0.7197,"y":0.229},{"s":"H","c":3,"i":8,"x":0.5722,"y":0.234},{"s":"H","c":3,"i":9,"x":0.3935,"y":0.2432},{"s":"H","c":3,"i":10,"x":0.3442,"y":0.2513},{"s":"H","c":3,"i":11,"x":0.3286,"y":0.2737},{"s":"H","c":3,"i":12,"x":0.3554,"y":0.351},{"s":"H","c":3,"i":13,"x":0.4225,"y":0.4425},{"s":"H","c":3,"i":14,"x":0.4672,"y":0.4669},
{"s":"H","c":4,"i":0,"x":0.5357,"y":0.4531},{"s":"H","c":4,"i":1,"x":0.5879,"y":0.4465},{"s":"H","c":4,"i":2,"x":0.6266,"y":0.4245},{"s":"H","c":4,"i":3,"x":0.6576,"y":0.3918},{"s":"H","c":4,"i":4,"x":0.7156,"y":0.2992},{"s":"H","c":4,"i":5,"x":0.733,"y":0.2726},{"s":"H","c":4,"i":6,"x":0.7311,"y":0.2579},{"s":"H","c":4,"i":7,"x":0.6963,"y":0.253},{"s":"H","c":4,"i":8,"x":0.5686,"y":0.2571},{"s":"H","c":4,"i":9,"x":0.4139,"y":0.2644},{"s":"H","c":4,"i":10,"x":0.3713,"y":0.271},{"s":"H","c":4,"i":11,"x":0.3578,"y":0.2889},{"s":"H","c":4,"i":12,"x":0.381,"y":0.351},{"s":"H","c":4,"i":13,"x":0.439,"y":0.4245},{"s":"H","c":4,"i":14,"x":0.4777,"y":0.4441},
{"s":"H","c":5,"i":0,"x":0.5431,"y":0.4202},{"s":"H","c":5,"i":1,"x":0.5864,"y":0.4154},{"s":"H","c":5,"i":2,"x":0.6185,"y":0.3991},{"s":"H","c":5,"i":3,"x":0.6442,"y":0.3751},{"s":"H","c":5,"i":4,"x":0.6923,"y":0.3069},{"s":"H","c":5,"i":5,"x":0.7067,"y":0.2872},{"s":"H","c":5,"i":6,"x":0.7052,"y":0.2764},{"s":"H","c":5,"i":7,"x":0.6763,"y":0.2728},{"s":"H","c":5,"i":8,"x":0.5704,"y":0.2758},{"s":"H","c":5,"i":9,"x":0.442,"y":0.2812},{"s":"H","c":5,"i":10,"x":0.4067,"y":0.286},{"s":"H","c":5,"i":11,"x":0.3955,"y":0.2993},{"s":"H","c":5,"i":12,"x":0.4147,"y":0.345},{"s":"H","c":5,"i":13,"x":0.4628,"y":0.3991},{"s":"H","c":5,"i":14,"x":0.4949,"y":0.4136},
{"s":"H","c":6,"i":0,"x":0.5457,"y":0.3916},{"s":"H","c":6,"i":1,"x":0.575,"y":0.3886},{"s":"H","c":6,"i":2,"x":0.5968,"y":0.3785},{"s":"H","c":6,"i":3,"x":0.6143,"y":0.3636},{"s":"H","c":6,"i":4,"x":0.6469,"y":0.3214},{"s":"H","c":6,"i":5,"x":0.6567,"y":0.3092},{"s":"H","c":6,"i":6,"x":0.6556,"y":0.3025},{"s":"H","c":6,"i":7,"x":0.636,"y":0.3003},{"s":"H","c":6,"i":8,"x":0.5642,"y":0.3022},{"s":"H","c":6,"i":9,"x":0.4771,"y":0.3055},{"s":"H","c":6,"i":10,"x":0.4531,"y":0.3085},{"s":"H","c":6,"i":11,"x":0.4455,"y":0.3167},{"s":"H","c":6,"i":12,"x":0.4585,"y":0.345},{"s":"H","c":6,"i":13,"x":0.4912,"y":0.3785},{"s":"H","c":6,"i":14,"x":0.513,"y":0.3875}
]
},
"hconcat":[
{
"width":428,"height":425,
"encoding":{
"x":{"field":"x","type":"quantitative","scale":{"domain":[-0.108,1.1183],"nice":false,"zero":false},"axis":null},
"y":{"field":"y","type":"quantitative","scale":{"domain":[-0.1269,1.0908],"nice":false,"zero":false},"axis":null}
},
"layer":[
{"data":{"name":"grid"},"transform":[{"filter":"datum.g == 'minor'"}],"mark":{"type":"rule","color":"#d3d3d3","strokeWidth":1},"encoding":{"x2":{"field":"x2"},"y2":{"field":"y2"}}},
{"data":{"name":"grid"},"transform":[{"filter":"datum.g == 'major'"}],"mark":{"type":"rule","color":"#a9a9a9","strokeWidth":1},"encoding":{"x2":{"field":"x2"},"y2":{"field":"y2"}}},
{"data":{"name":"ticks"},"mark":{"type":"rule","color":"#a9a9a9","strokeWidth":1},"encoding":{"x2":{"field":"x2"},"y2":{"field":"y2"}}},
{"data":{"name":"border"},"mark":{"type":"rule","color":"black","strokeWidth":1.3},"encoding":{"x2":{"field":"x2"},"y2":{"field":"y2"}}},
{"data":{"name":"contL"},
"encoding":{"color":{"field":"s","type":"nominal","scale":{"domain":["M","G","C","H"],"range":["red","blue","brown","black"]},
"legend":{"orient":"none","legendX":241,"legendY":10.7,"title":null,"padding":11,"strokeColor":"black","fillColor":"white","symbolSize":729,"clipHeight":20,"rowPadding":0,"labelFontSize":17,"labelFont":"Liberation Sans","labelColor":"black","symbolOffset":0,"labelLimit":400,
"labelExpr":"datum.label == 'M' ? 'MLE' : datum.label == 'G' ? 'Gaussian approx' : datum.label == 'C' ? 'Gaussian MC' : 'Hamiltonian MC'",
"encode":{"symbols":{"update":{
"x":{"value":13.5},
"shape":{"signal":"datum.value == 'M' ? 'triangle-up' : 'stroke'"},
"size":{"signal":"datum.value == 'M' ? 130 : 729"},
"fill":{"signal":"datum.value == 'M' ? 'red' : 'transparent'"},
"stroke":{"signal":"datum.value == 'M' ? 'transparent' : datum.value == 'G' ? 'blue' : datum.value == 'C' ? 'brown' : 'black'"},
"strokeWidth":{"signal":"datum.value == 'G' ? 1.2 : datum.value == 'M' ? 0 : 2.6"},
"strokeDash":{"signal":"datum.value == 'C' ? [11,7] : datum.value == 'H' ? [2.5,8,10,10] : [1,0]"},
"opacity":{"value":1}
}},
"labels":{"update":{
"x":{"value":41},
"text":{"signal":"datum.value == 'M' ? 'MLE' : datum.value == 'G' ? 'Gaussian approx' : datum.value == 'C' ? 'Gaussian MC' : 'Hamiltonian MC'"}
}}}}}},
"layer":[
{"transform":[{"filter":"datum.s == 'G'"}],"mark":{"type":"line","interpolate":"cardinal-closed","strokeWidth":1.2},"encoding":{"detail":{"field":"c"},"order":{"field":"i","type":"quantitative"}}},
{"transform":[{"filter":"datum.s == 'C'"}],"mark":{"type":"line","interpolate":"cardinal-closed","strokeWidth":2.6,"strokeDash":[10,7]},"encoding":{"detail":{"field":"c"},"order":{"field":"i","type":"quantitative"}}},
{"transform":[{"filter":"datum.s == 'H'"}],"mark":{"type":"line","interpolate":"cardinal-closed","strokeWidth":2.6,"strokeDash":[2.5,7,9,7]},"encoding":{"detail":{"field":"c"},"order":{"field":"i","type":"quantitative"}}},
{"data":{"name":"mleL"},"mark":{"type":"point","shape":"triangle-up","filled":true,"size":120,"opacity":1}}
]},
{"data":{"name":"tlab"},"transform":[{"filter":"datum.side == 'L'"}],"mark":{"type":"text","align":"right","baseline":"middle","fontSize":18,"font":"Liberation Sans","color":"black"},"encoding":{"text":{"field":"t"}}},
{"data":{"name":"tlab"},"transform":[{"filter":"datum.side == 'R'"}],"mark":{"type":"text","align":"left","baseline":"middle","angle":-47,"fontSize":18,"font":"Liberation Sans","color":"black"},"encoding":{"text":{"field":"t"}}},
{"data":{"name":"tlab"},"transform":[{"filter":"datum.side == 'B'"}],"mark":{"type":"text","align":"left","baseline":"middle","angle":65,"fontSize":18,"font":"Liberation Sans","color":"black"},"encoding":{"text":{"field":"t"}}},
{"data":{"name":"titlesL"},"mark":{"type":"text","align":"center","baseline":"middle","fontSize":22,"fontWeight":"bold","font":"Liberation Sans","color":"black"},"encoding":{"text":{"field":"t"}}}
]
},
{
"width":428,"height":425,
"encoding":{
"x":{"field":"x","type":"quantitative","scale":{"domain":[-0.1252,1.1011],"nice":false,"zero":false},"axis":null},
"y":{"field":"y","type":"quantitative","scale":{"domain":[-0.1175,1.1003],"nice":false,"zero":false},"axis":null}
},
"layer":[
{"data":{"name":"grid"},"transform":[{"filter":"datum.g == 'minor'"}],"mark":{"type":"rule","color":"#d3d3d3","strokeWidth":1},"encoding":{"x2":{"field":"x2"},"y2":{"field":"y2"}}},
{"data":{"name":"grid"},"transform":[{"filter":"datum.g == 'major'"}],"mark":{"type":"rule","color":"#a9a9a9","strokeWidth":1},"encoding":{"x2":{"field":"x2"},"y2":{"field":"y2"}}},
{"data":{"name":"ticks"},"mark":{"type":"rule","color":"#a9a9a9","strokeWidth":1},"encoding":{"x2":{"field":"x2"},"y2":{"field":"y2"}}},
{"data":{"name":"border"},"mark":{"type":"rule","color":"black","strokeWidth":1.3},"encoding":{"x2":{"field":"x2"},"y2":{"field":"y2"}}},
{"data":{"name":"contR"},
"encoding":{"color":{"field":"s","type":"nominal","scale":{"domain":["M","G","C","H"],"range":["red","blue","brown","black"]},
"legend":{"orient":"none","legendX":247,"legendY":14,"title":null,"padding":9,"strokeColor":"black","fillColor":"white","symbolSize":729,"clipHeight":21.3,"rowPadding":0,"labelFontSize":17,"labelFont":"Liberation Sans","labelColor":"black","symbolOffset":0,"labelLimit":400,
"labelExpr":"datum.label == 'M' ? 'MLE' : datum.label == 'G' ? 'Gaussian approx' : datum.label == 'C' ? 'Gaussian MC' : 'Hamiltonian MC'",
"encode":{"symbols":{"update":{
"x":{"value":13.5},
"shape":{"signal":"datum.value == 'M' ? 'triangle-up' : 'stroke'"},
"size":{"signal":"datum.value == 'M' ? 130 : 729"},
"fill":{"signal":"datum.value == 'M' ? 'red' : 'transparent'"},
"stroke":{"signal":"datum.value == 'M' ? 'transparent' : datum.value == 'G' ? 'blue' : datum.value == 'C' ? 'brown' : 'black'"},
"strokeWidth":{"signal":"datum.value == 'G' ? 1.2 : datum.value == 'M' ? 0 : 2.6"},
"strokeDash":{"signal":"datum.value == 'C' ? [11,7] : datum.value == 'H' ? [2.5,8,10,10] : [1,0]"},
"opacity":{"value":1}
}},
"labels":{"update":{
"x":{"value":43},
"text":{"signal":"datum.value == 'M' ? 'MLE' : datum.value == 'G' ? 'Gaussian approx' : datum.value == 'C' ? 'Gaussian MC' : 'Hamiltonian MC'"}
}}}}}},
"layer":[
{"transform":[{"filter":"datum.s == 'G'"}],"mark":{"type":"line","interpolate":"cardinal-closed","strokeWidth":1.2},"encoding":{"detail":{"field":"c"},"order":{"field":"i","type":"quantitative"}}},
{"transform":[{"filter":"datum.s == 'C'"}],"mark":{"type":"line","interpolate":"cardinal-closed","strokeWidth":2.6,"strokeDash":[10,7]},"encoding":{"detail":{"field":"c"},"order":{"field":"i","type":"quantitative"}}},
{"transform":[{"filter":"datum.s == 'H'"}],"mark":{"type":"line","interpolate":"cardinal-closed","strokeWidth":2.6,"strokeDash":[2.5,7,9,7]},"encoding":{"detail":{"field":"c"},"order":{"field":"i","type":"quantitative"}}},
{"data":{"name":"mleR"},"mark":{"type":"point","shape":"triangle-up","filled":true,"size":120,"opacity":1}}
]},
{"data":{"name":"tlab"},"transform":[{"filter":"datum.side == 'L'"}],"mark":{"type":"text","align":"right","baseline":"middle","fontSize":18,"font":"Liberation Sans","color":"black"},"encoding":{"text":{"field":"t"}}},
{"data":{"name":"tlab"},"transform":[{"filter":"datum.side == 'R'"}],"mark":{"type":"text","align":"left","baseline":"middle","angle":-47,"fontSize":18,"font":"Liberation Sans","color":"black"},"encoding":{"text":{"field":"t"}}},
{"data":{"name":"tlab"},"transform":[{"filter":"datum.side == 'B'"}],"mark":{"type":"text","align":"left","baseline":"middle","angle":65,"fontSize":18,"font":"Liberation Sans","color":"black"},"encoding":{"text":{"field":"t"}}},
{"data":{"name":"titlesR"},"mark":{"type":"text","align":"center","baseline":"middle","fontSize":22,"fontWeight":"bold","font":"Liberation Sans","color":"black"},"encoding":{"text":{"field":"t"}}}
]
}
]
}
